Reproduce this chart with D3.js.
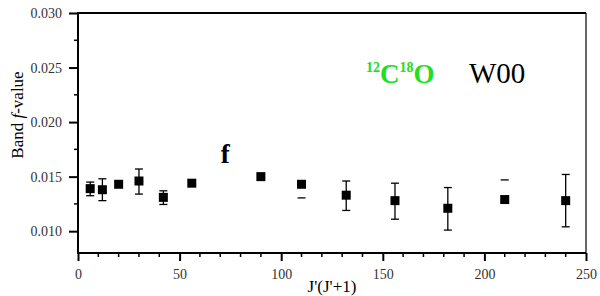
<!DOCTYPE html>
<html>
<head>
<meta charset="utf-8">
<script src="https://cdn.jsdelivr.net/npm/d3@7"></script>
<style>
  body { margin: 0; background: #fff; }
  svg text { font-family: "Liberation Serif", "Times New Roman", serif; }
</style>
</head>
<body>
<svg id="chart" width="600" height="296"></svg>
<script>
// data
var jValues = [6, 12, 20, 30, 42, 56, 90, 110, 132, 156, 182, 210, 240];
var fValues = [0.0139, 0.0138, 0.0143, 0.0146, 0.0131, 0.0144, 0.0150, 0.0143, 0.0133, 0.0128, 0.0121, 0.0129, 0.0128];
var errMinus = [0.00065, 0.0010, 0, 0.0012, 0.00065, 0, 0, 0.00125, 0.0014, 0.0017, 0.0020, 0, 0.0024];
var errPlus = [0.0006, 0.0010, 0, 0.0011, 0.0006, 0, 0, 0, 0.0013, 0.0016, 0.0019, 0.0018, 0.0024];
var showStem = [true, true, true, true, true, true, true, false, true, true, true, false, true];
var xTicks = [0, 50, 100, 150, 200, 250];
var yTicks = [0.010, 0.015, 0.020, 0.025, 0.030];
var markLabel = {j: 72, text: "f", f: 0.01625};

var width = 600, height = 296;
var margin = {top: 13, right: 14, bottom: 43, left: 78};

var svg = d3.select("#chart");

var x = d3.scaleLinear().domain([0, 250]).range([margin.left, width - margin.right]);
var y = d3.scaleLinear().domain([0.008, 0.030]).range([height - margin.bottom, margin.top]);

// minor ticks
var xMinor = d3.range(0, 251, 10).filter(function(d) { return d % 50 != 0; });
var yMinor = [0.0125, 0.0175, 0.0225, 0.0275];

svg.selectAll("line.xminor").data(xMinor).enter().append("line")
    .attr("x1", d => x(d)).attr("x2", d => x(d))
    .attr("y1", y(0.008)).attr("y2", y(0.008) + 4)
    .attr("stroke", "#000").attr("stroke-width", 1.5);

svg.selectAll("line.yminor").data(yMinor).enter().append("line")
    .attr("x1", x(0) - 4).attr("x2", x(0))
    .attr("y1", d => y(d)).attr("y2", d => y(d))
    .attr("stroke", "#000").attr("stroke-width", 1.5);

// axes
var xAxis = svg.append("g")
    .attr("transform", "translate(0," + y(0.008) + ")")
    .call(d3.axisBottom(x).tickValues(xTicks).tickSize(8).tickPadding(8).tickFormat(d3.format("d")));
var yAxis = svg.append("g")
    .attr("transform", "translate(" + x(0) + ",0)")
    .call(d3.axisLeft(y).tickValues(yTicks).tickSize(9).tickPadding(7).tickFormat(d3.format(".3f")));

[xAxis, yAxis].forEach(function(g) {
    g.attr("font-family", null);
    g.select(".domain").remove();
    g.selectAll(".tick line").attr("stroke", "#000").attr("stroke-width", 2);
    g.selectAll(".tick text")
        .attr("font-size", 14)
        .attr("fill", "#333");
});

// frame
svg.append("line").attr("x1", x(0)).attr("x2", x(250)).attr("y1", y(0.030)).attr("y2", y(0.030))
    .attr("stroke", "#000").attr("stroke-width", 2);
svg.append("line").attr("x1", x(250)).attr("x2", x(250)).attr("y1", y(0.030)).attr("y2", y(0.008))
    .attr("stroke", "#000").attr("stroke-width", 1.2);
svg.append("line").attr("x1", x(0)).attr("x2", x(250)).attr("y1", y(0.008)).attr("y2", y(0.008))
    .attr("stroke", "#000").attr("stroke-width", 2);
svg.append("line").attr("x1", x(0)).attr("x2", x(0)).attr("y1", y(0.030) - 1).attr("y2", y(0.008) + 1)
    .attr("stroke", "#000").attr("stroke-width", 2);

// axis titles
svg.append("text")
    .attr("x", x(125)).attr("y", 292)
    .attr("text-anchor", "middle")
    .attr("font-size", 17)
    .text("J'(J'+1)");

var yl = svg.append("text")
    .attr("transform", "translate(23,115) rotate(-90)")
    .attr("text-anchor", "middle")
    .attr("font-size", 17);
yl.append("tspan").text("Band ");
yl.append("tspan").attr("font-style", "italic").text("f");
yl.append("tspan").text("-value");

// data
var pts = jValues.map(function(j, i) {
    return {j: j, f: fValues[i], lo: errMinus[i], hi: errPlus[i], stem: showStem[i]};
});

var capW = 4;
var eb = svg.append("g").attr("stroke", "#000").attr("stroke-width", 1.3);
pts.forEach(function(d) {
    if (d.stem && (d.lo > 0 || d.hi > 0)) {
        eb.append("line").attr("x1", x(d.j)).attr("x2", x(d.j))
            .attr("y1", y(d.f + d.hi)).attr("y2", y(d.f - d.lo));
    }
    if (d.hi > 0) {
        eb.append("line").attr("x1", x(d.j) - capW).attr("x2", x(d.j) + capW)
            .attr("y1", y(d.f + d.hi)).attr("y2", y(d.f + d.hi));
    }
    if (d.lo > 0) {
        eb.append("line").attr("x1", x(d.j) - capW).attr("x2", x(d.j) + capW)
            .attr("y1", y(d.f - d.lo)).attr("y2", y(d.f - d.lo));
    }
});

var ms = 9;
svg.selectAll("rect.pt").data(pts).enter().append("rect")
    .attr("class", "pt")
    .attr("x", d => x(d.j) - ms / 2)
    .attr("y", d => y(d.f) - ms / 2)
    .attr("width", ms).attr("height", ms)
    .attr("fill", "#000");

// "f" marker
svg.append("text")
    .attr("x", x(markLabel.j) + 1).attr("y", y(markLabel.f))
    .attr("text-anchor", "middle")
    .attr("font-size", 27).attr("font-weight", "bold")
    .text(markLabel.text);

// title
var t = svg.append("text").attr("x", 366).attr("y", 83);
var green = "#22dd22";
t.append("tspan").attr("fill", green).attr("font-weight", "bold").attr("font-size", 14).attr("dy", -11).text("12");
t.append("tspan").attr("fill", green).attr("font-weight", "bold").attr("font-size", 27).attr("dy", 11).text("C");
t.append("tspan").attr("fill", green).attr("font-weight", "bold").attr("font-size", 14).attr("dy", -11).text("18");
t.append("tspan").attr("fill", green).attr("font-weight", "bold").attr("font-size", 27).attr("dy", 11).text("O");
t.append("tspan").attr("x", 469).attr("fill", "#000").attr("font-size", 29).text("W00");
</script>
</body>
</html>
